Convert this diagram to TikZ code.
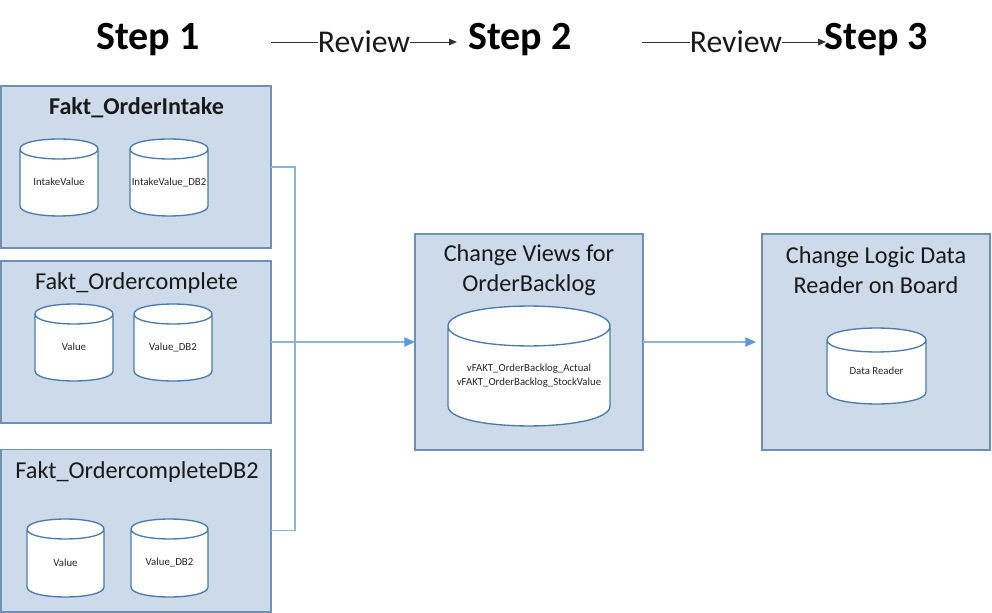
\documentclass[tikz,border=0pt]{standalone}
\usepackage{fontspec}
\setmainfont{Carlito}
\usetikzlibrary{arrows.meta}
\definecolor{boxfill}{HTML}{CCDAE9}
\definecolor{boxline}{HTML}{6F8FB3}
\definecolor{cylline}{HTML}{4A7BAA}
\definecolor{conn}{HTML}{8DB3D9}
\definecolor{connarrow}{HTML}{5B9BD5}
\tikzset{
  panel/.style={draw=boxline,fill=boxfill,line width=1.2pt,anchor=north west,inner sep=0pt,outer sep=0pt},
  cylbody/.style={draw=cylline,fill=white,line width=1pt},
  cyltext/.style={font=\fontsize{8.1pt}{10.3pt}\selectfont,align=center,text=black!85,inner sep=0pt},
  steptitle/.style={font=\fontsize{30pt}{32pt}\selectfont\bfseries,text=black},
  boxtitle/.style={font=\fontsize{18.2pt}{22pt}\selectfont,align=center,text=black!90},
  boxtitlebold/.style={font=\fontsize{18.1pt}{20pt}\selectfont\bfseries,align=center,text=black!90},
  reviewlabel/.style={font=\fontsize{23.8pt}{26pt}\selectfont,inner sep=0pt,text=black!90},
  reviewline/.style={draw=black!80,line width=0.7pt},
  flow/.style={draw=conn,line width=0.9pt},
  flowarrow/.style={draw=conn,line width=0.9pt,-{Triangle[length=8pt,width=7pt,fill=connarrow,color=connarrow]}}
}
% name, left x, top y, width, height, ellipse ry, text offset, text
\newcommand{\dbcylinder}[8]{%
  \path[cylbody] (#2,#3+#6) -- (#2,#3+#5-#6)
     .. controls (#2,#3+#5-#6+#6*1.33) and (#2+#4,#3+#5-#6+#6*1.33) .. (#2+#4,#3+#5-#6)
     -- (#2+#4,#3+#6)
     .. controls (#2+#4,#3+#6-#6*1.33) and (#2,#3+#6-#6*1.33) .. (#2,#3+#6)
     .. controls (#2,#3+#6+#6*1.33) and (#2+#4,#3+#6+#6*1.33) .. (#2+#4,#3+#6);
  \node[cyltext] (#1) at (#2+#4/2,#3+#5/2+#7) {#8};
}
\begin{document}
\begin{tikzpicture}[x=0.75pt,y=-0.75pt]
\useasboundingbox (0,0) rectangle (992,613);
% panels
\node[panel,minimum width=202.5pt,minimum height=121.5pt] (a) at (1,86) {};
\node[panel,minimum width=202.5pt,minimum height=121.5pt] (b) at (1,261) {};
\node[panel,minimum width=202.5pt,minimum height=122pt] (c) at (1,449.5) {};
\node[panel,minimum width=171pt,minimum height=162pt] (d) at (415,234) {};
\node[panel,minimum width=171pt,minimum height=162pt] (e) at (762,234) {};
% panel titles
\node[boxtitlebold] (ta) at (136.5,108) {Fakt\_OrderIntake};
\node[boxtitle] (tb) at (136.5,283) {Fakt\_Ordercomplete};
\node[boxtitle] (tc) at (137,472) {Fakt\_OrdercompleteDB2};
\node[boxtitle] (td) at (529,270) {Change Views for\\OrderBacklog};
\node[boxtitle] (te) at (876,270) {Change Logic Data\\Reader on Board};
% cylinders
\dbcylinder{a1}{20}{139}{78}{77}{10}{4.5}{IntakeValue}
\dbcylinder{a2}{130}{139}{78}{77}{10}{4.5}{IntakeValue\_DB2}
\dbcylinder{b1}{35}{304}{78}{77}{10}{4.5}{Value}
\dbcylinder{b2}{134}{304}{78}{77}{10}{4.5}{Value\_DB2}
\dbcylinder{c1}{27}{519}{77}{78}{10}{4.5}{Value}
\dbcylinder{c2}{131}{519}{77}{78}{10}{4.5}{Value\_DB2}
\dbcylinder{d1}{448}{306}{162}{120}{20}{10}{vFAKT\_OrderBacklog\_Actual\\vFAKT\_OrderBacklog\_StockValue}
\dbcylinder{e1}{827}{328}{99}{76}{12}{4.5}{Data Reader}
% step headings
\node[steptitle] (s1) at (148,40) {Step 1};
\node[steptitle] (s2) at (520,40) {Step 2};
\node[steptitle] (s3) at (876.5,40) {Step 3};
% review labels
\node[reviewlabel] (r1) at (364,42) {Review};
\node[reviewlabel] (r2) at (736,42) {Review};
\coordinate (r1s) at (271,42);
\coordinate (r1e) at (457,42);
\coordinate (r2s) at (642,42);
\coordinate (r2e) at (826,42);
\draw[reviewline] (r1s) -- (r1.west);
\draw[reviewline,-{Triangle[length=6pt,width=5pt]}] (r1.east) -- (r1e);
\draw[reviewline] (r2s) -- (r2.west);
\draw[reviewline,-{Triangle[length=6pt,width=5pt]}] (r2.east) -- (r2e);
% connectors
\coordinate (bus) at (295,342);
\draw[flow] (a.east) -| (bus);
\draw[flow] (c.east) -| (bus);
\draw[flowarrow] (b.east) -- (d.west);
\draw[flowarrow,shorten >=4.5pt] (d.east) -- (e.west);
\end{tikzpicture}
\end{document}
